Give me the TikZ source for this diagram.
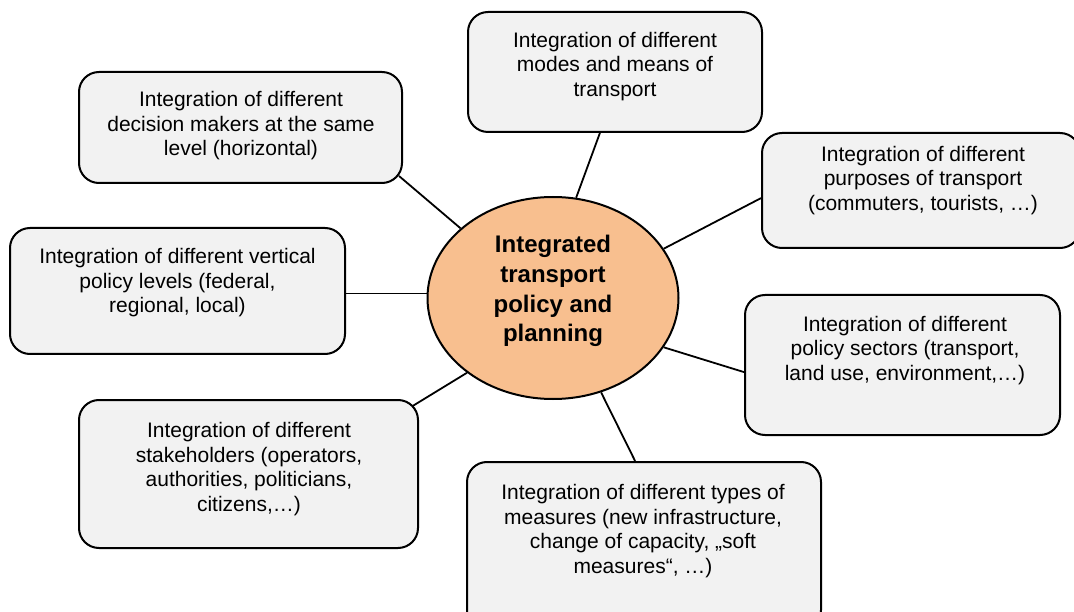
\documentclass[tikz,border=0pt]{standalone}
\usepackage{fontspec}
\setmainfont{Liberation Sans}
\usetikzlibrary{shapes.geometric,calc,backgrounds}
\definecolor{boxfill}{HTML}{F2F2F2}
\definecolor{hubfill}{HTML}{F8BF8F}
\tikzset{
  box/.style={rectangle, rounded corners=20pt, draw=black, line width=2pt, fill=boxfill, inner sep=0pt},
  txt/.style={align=center, inner sep=0pt, font=\fontsize{21}{24.5}\selectfont},
  hub/.style={ellipse, draw=black, line width=2pt, fill=hubfill, inner sep=0pt, minimum width=251pt, minimum height=202pt},
  hubtxt/.style={align=center, inner sep=0pt, font=\fontsize{24}{29.7}\selectfont\bfseries},
  link/.style={draw=black, line width=1.8pt}
}
\begin{document}
\begin{tikzpicture}[x=1pt, y=-1pt]
\useasboundingbox (0,0) rectangle (1074,612);
\clip (0,0) rectangle (1074,612);
% boxes
\node[box, minimum width=294pt, minimum height=120pt] (b1) at (615,72) {};
\node[box, minimum width=323pt, minimum height=111pt] (b2) at (240.5,127.5) {};
\node[box, minimum width=318pt, minimum height=115pt] (b3) at (921,190.5) {};
\node[box, minimum width=335pt, minimum height=126pt] (b4) at (177.5,291) {};
\node[box, minimum width=315pt, minimum height=140pt] (b5) at (902.5,365) {};
\node[box, minimum width=339pt, minimum height=148pt] (b6) at (248.5,474) {};
\node[box, minimum width=354pt, minimum height=168pt] (b7) at (644,546) {};
% hub
\node[hub] (hub) at (553,298) {};
\node[hubtxt] (hubtext) at (553,291) {Integrated\\transport\\policy and\\planning};
% texts
\node[txt] (t1) at (615,66.5) {Integration of different\\modes and means of\\transport};
\node[txt] (t2) at (241,126) {Integration of different\\decision makers at the same\\level (horizontal)};
\node[txt] (t3) at (923,180.5) {Integration of different\\purposes of transport\\(commuters, tourists, …)};
\node[txt] (t4) at (177.5,283) {Integration of different vertical\\policy levels (federal,\\regional, local)};
\node[txt] (t5) at (905,350.5) {Integration of different\\policy sectors (transport,\\land use, environment,…)};
\node[txt] (t6) at (249,469) {Integration of different\\stakeholders (operators,\\authorities, politicians,\\citizens,…)};
\node[txt] (t7) at (643,531) {Integration of different types of\\measures (new infrastructure,\\change of capacity, „soft\\measures“, …)};
% connectors
\begin{scope}[on background layer]
\fill[white] (0,0) rectangle (1074,612);
\draw[link] (hub.77) -- ($(b1.south west)!0.449!(b1.south east)$);
\draw[link] (hub.143) -- ($(b2.south east)+(-4,-8)$);
\draw[link] (hub.24) -- ($(b3.north west)!0.565!(b3.south west)$);
\draw[link] (hub.178) -- (hub.178 -| b4.east);
\draw[link] (hub.-24) -- ($(b5.north west)!0.55!(b5.south west)$);
\draw[link] (hub.221) -- ($(b6.north east)+(-8,8)$);
\draw[link] (hub.-63) -- ($(b7.north west)!0.475!(b7.north east)$);
\end{scope}
\end{tikzpicture}
\end{document}
